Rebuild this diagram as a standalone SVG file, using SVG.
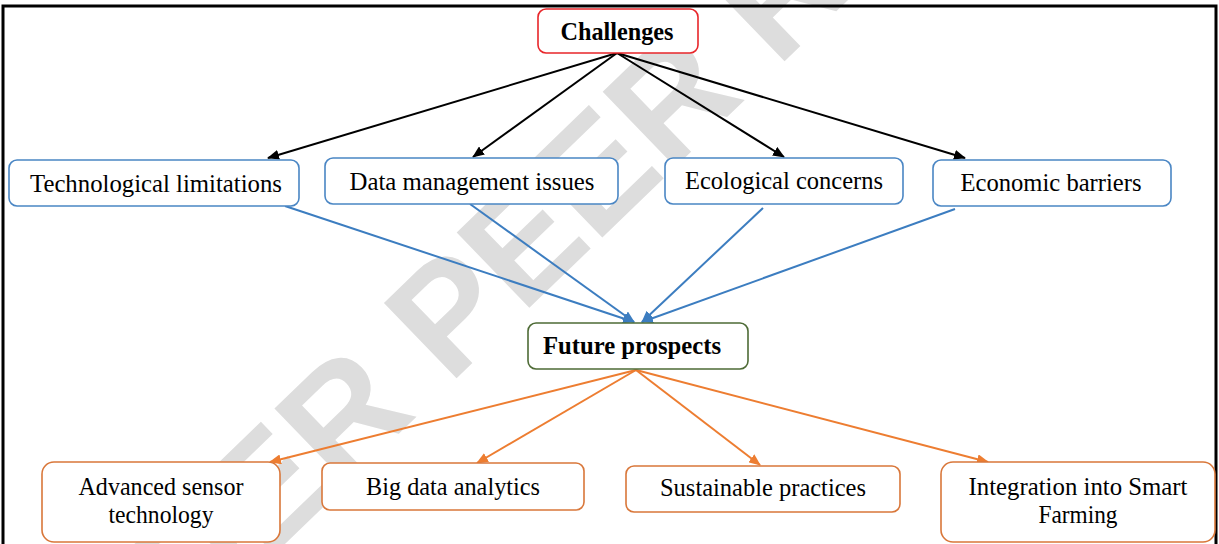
<svg xmlns="http://www.w3.org/2000/svg" width="1219" height="544" viewBox="0 0 1219 544">
<style>
.box{fill:#fff;stroke-width:1.6}
.blue{stroke:#4a86c4}
.orange{stroke:#d9773a}
.t{font-family:"Liberation Serif","Times New Roman",serif;font-size:26px;fill:#000;text-anchor:middle}
.b{font-weight:bold;font-size:25px}
.ck{stroke:#000;stroke-width:2;fill:none}
.cb{stroke:#3c7dc0;stroke-width:2;fill:none}
.co{stroke:#ed7d31;stroke-width:2;fill:none}
</style>
<defs>
<marker id="ak" markerWidth="12" markerHeight="10" refX="11" refY="5" orient="auto" markerUnits="userSpaceOnUse"><path d="M0,0 L12,5 L0,10 Z" fill="#000"/></marker>
<marker id="ab" markerWidth="12" markerHeight="10" refX="11" refY="5" orient="auto" markerUnits="userSpaceOnUse"><path d="M0,0 L12,5 L0,10 Z" fill="#3c7dc0"/></marker>
<marker id="ao" markerWidth="12" markerHeight="10" refX="11" refY="5" orient="auto" markerUnits="userSpaceOnUse"><path d="M0,0 L12,5 L0,10 Z" fill="#ed7d31"/></marker>
</defs>
<rect width="1219" height="544" fill="#fff"/>
<g id="watermark">
<text transform="translate(30,790) rotate(-44)" font-family="Liberation Sans, Arial, sans-serif" font-weight="bold" font-size="152" fill="#dddddd">UNDER PEER REVIEW</text>
</g>
<path d="M3,544 V6 H1216 V544" fill="none" stroke="#000" stroke-width="3"/>
<g id="connectors">
<line class="ck" x1="617" y1="53" x2="268" y2="158" marker-end="url(#ak)"/>
<line class="ck" x1="617" y1="53" x2="473" y2="157" marker-end="url(#ak)"/>
<line class="ck" x1="617" y1="53" x2="784" y2="157" marker-end="url(#ak)"/>
<line class="ck" x1="617" y1="53" x2="965" y2="158" marker-end="url(#ak)"/>
<line class="cb" x1="285" y1="206" x2="634" y2="322" marker-end="url(#ab)"/>
<line class="cb" x1="470" y1="204" x2="634" y2="322" marker-end="url(#ab)"/>
<line class="cb" x1="763" y1="208" x2="642" y2="322" marker-end="url(#ab)"/>
<line class="cb" x1="955" y1="209" x2="642" y2="322" marker-end="url(#ab)"/>
<line class="co" x1="636" y1="370" x2="270" y2="462" marker-end="url(#ao)"/>
<line class="co" x1="636" y1="370" x2="477" y2="463" marker-end="url(#ao)"/>
<line class="co" x1="636" y1="370" x2="760" y2="465" marker-end="url(#ao)"/>
<line class="co" x1="636" y1="370" x2="988" y2="462" marker-end="url(#ao)"/>
</g>
<g id="challenges">
<rect class="box" x="538" y="9" width="160" height="44" rx="8" stroke="#e8262a"/>
<text class="t b" x="617" y="40" textLength="113" lengthAdjust="spacingAndGlyphs">Challenges</text>
</g>
<g id="tech">
<rect class="box blue" x="9" y="160" width="290" height="46" rx="8"/>
<text class="t" x="156" y="192" textLength="252" lengthAdjust="spacingAndGlyphs">Technological limitations</text>
</g>
<g id="data">
<rect class="box blue" x="325" y="158" width="293" height="46" rx="8"/>
<text class="t" x="472" y="190" textLength="245" lengthAdjust="spacingAndGlyphs">Data management issues</text>
</g>
<g id="eco">
<rect class="box blue" x="665" y="158" width="238" height="46" rx="8"/>
<text class="t" x="784" y="189" textLength="198" lengthAdjust="spacingAndGlyphs">Ecological concerns</text>
</g>
<g id="econ">
<rect class="box blue" x="933" y="160" width="238" height="46" rx="8"/>
<text class="t" x="1051" y="191" textLength="181" lengthAdjust="spacingAndGlyphs">Economic barriers</text>
</g>
<g id="future">
<rect class="box" x="528" y="323" width="220" height="46" rx="8" stroke="#4e6b36"/>
<text class="t b" x="543" y="354" style="text-anchor:start" textLength="178" lengthAdjust="spacingAndGlyphs">Future prospects</text>
</g>
<g id="sensor">
<rect class="box orange" x="42" y="462" width="238" height="80" rx="12"/>
<text class="t" x="161" y="495" textLength="165" lengthAdjust="spacingAndGlyphs">Advanced sensor</text>
<text class="t" x="161" y="523" textLength="105" lengthAdjust="spacingAndGlyphs">technology</text>
</g>
<g id="bigdata">
<rect class="box orange" x="322" y="463" width="262" height="47" rx="8"/>
<text class="t" x="453" y="495" textLength="174" lengthAdjust="spacingAndGlyphs">Big data analytics</text>
</g>
<g id="sustainable">
<rect class="box orange" x="626" y="466" width="274" height="46" rx="8"/>
<text class="t" x="763" y="496" textLength="206" lengthAdjust="spacingAndGlyphs">Sustainable practices</text>
</g>
<g id="smart">
<rect class="box orange" x="941" y="462" width="274" height="80" rx="12"/>
<text class="t" x="1078" y="495" textLength="219" lengthAdjust="spacingAndGlyphs">Integration into Smart</text>
<text class="t" x="1078" y="523" textLength="79" lengthAdjust="spacingAndGlyphs">Farming</text>
</g>
</svg>
